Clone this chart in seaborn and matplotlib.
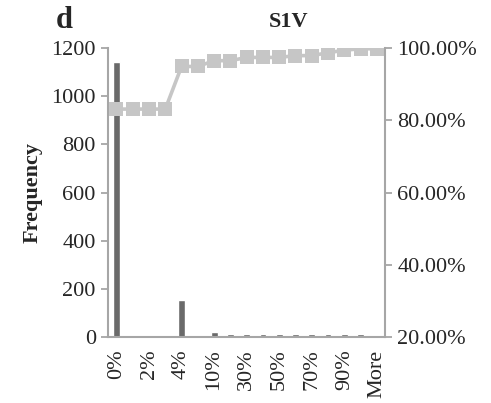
import matplotlib
matplotlib.use("Agg")
import matplotlib.pyplot as plt
import matplotlib.ticker as mticker
import numpy as np
import pandas as pd
import seaborn as sns

# Histogram bins (Excel-style) with frequency and cumulative percentage
bins = ["0%", "1%", "2%", "3%", "4%", "5%", "10%", "20%", "30%", "40%",
        "50%", "60%", "70%", "80%", "90%", "100%", "More"]
frequency = [1140, 0, 0, 0, 152, 0, 20, 12, 12, 12, 12, 12, 12, 12, 12, 12, 0]
cumulative_pct = [83.1, 83.1, 83.1, 83.1, 94.9, 94.9, 96.5, 96.5, 97.4, 97.4,
                  97.4, 97.9, 97.9, 98.7, 99.4, 99.8, 99.8]
shown_labels = ["0%", "2%", "4%", "10%", "30%", "50%", "70%", "90%", "More"]

df = pd.DataFrame({"bin": bins, "freq": frequency, "cum": cumulative_pct,
                   "pos": np.arange(len(bins))})

sns.set_theme(style="white")
plt.rcParams["font.family"] = ["Liberation Serif", "DejaVu Serif"]

BAR = "#6a6a6a"
LINE = "#c6c6c6"
SPINE = "#a6a6a6"

fig = plt.figure(figsize=(4.91, 4.03), dpi=100)
ax = fig.add_axes([0.2206, 0.1638, 0.5635, 0.7170])

sns.barplot(data=df, x="bin", y="freq", order=bins, color=BAR,
            width=0.42, saturation=1, ax=ax)

ax2 = ax.twinx()
sns.lineplot(data=df, x="pos", y="cum", ax=ax2, color=LINE, linewidth=2.6,
             marker="s", markersize=10.5, markeredgewidth=0,
             markerfacecolor=LINE)

n = len(bins)
for a in (ax, ax2):
    a.set_xlim(-0.5, n - 0.5)
    a.set_xlabel("")

ax.set_ylim(0, 1200)
ax.set_yticks(np.arange(0, 1201, 200))
ax2.set_ylim(20, 100)
ax2.set_yticks(np.arange(20, 101, 20))
ax2.yaxis.set_major_formatter(mticker.FuncFormatter(lambda v, p: f"{v:.2f}%"))
ax2.set_ylabel("")

# category ticks sit on the bin boundaries, labels on every other bin
ax.set_xticks(np.arange(-0.5, n, 1.0))
ax.set_xticklabels([])
ax.set_xticks(np.arange(0, n, 2), minor=True)
ax.set_xticklabels(shown_labels, minor=True, rotation=90, fontsize=16)
ax.tick_params(axis="x", which="minor", length=0, pad=9)
ax.tick_params(axis="x", which="major", length=7, width=1.3, color=SPINE,
               direction="out")
ax2.set_xticks([])

ax.tick_params(axis="y", length=5, width=1.3, color=SPINE, direction="out",
               labelsize=16, pad=4)
ax2.tick_params(axis="y", length=5, width=1.3, color=SPINE, direction="out",
                labelsize=16, pad=4)

for a in (ax, ax2):
    a.spines["top"].set_visible(False)
    for s in ("left", "right", "bottom"):
        a.spines[s].set_color(SPINE)
        a.spines[s].set_linewidth(1.5)
ax.spines["right"].set_visible(False)
ax2.spines["left"].set_visible(False)
ax2.spines["bottom"].set_visible(False)

ax.set_ylabel("Frequency", fontsize=16, fontweight="bold", labelpad=6)

fig.text(0.587, 0.945, "S1V", ha="center", va="center", fontsize=16,
         fontweight="bold")
fig.text(0.13, 0.948, "d", ha="center", va="center", fontsize=22,
         fontweight="bold")

fig.savefig("out.png", dpi=100)
